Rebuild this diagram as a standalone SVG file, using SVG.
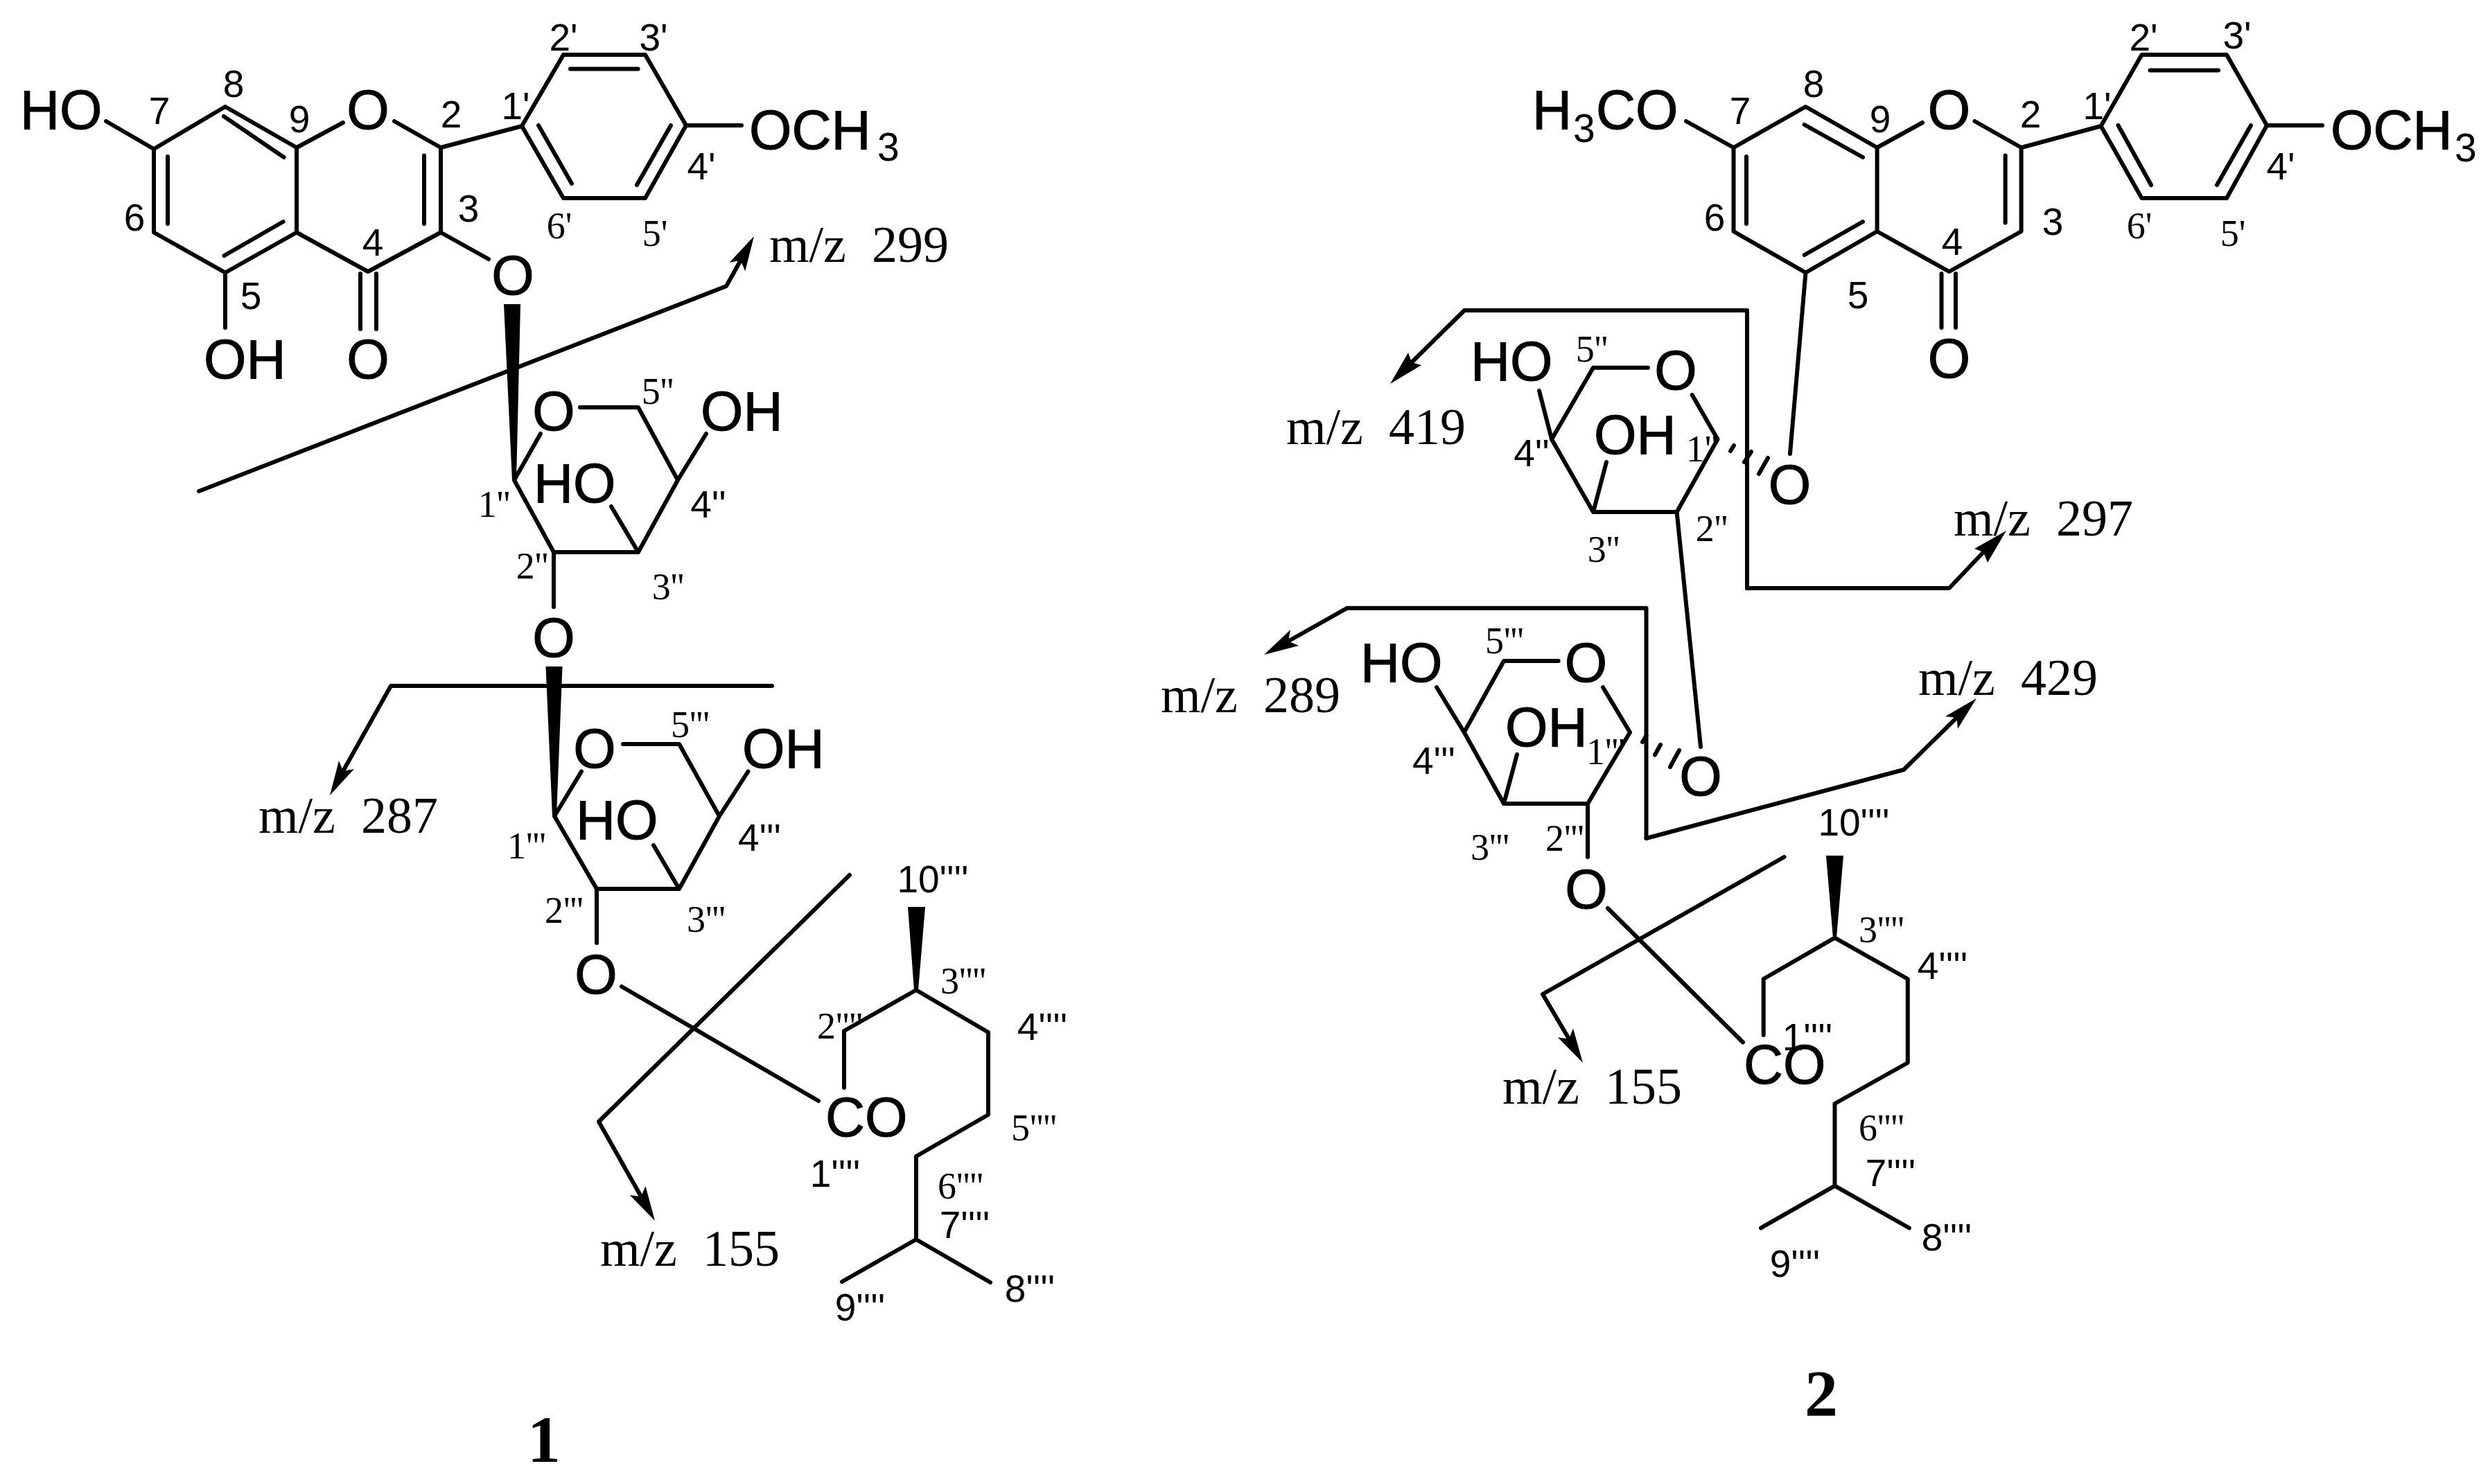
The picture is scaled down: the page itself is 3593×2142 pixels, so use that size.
<svg xmlns="http://www.w3.org/2000/svg" width="3593" height="2142" viewBox="0 0 3593 2142">
<style>
text{fill:#000;white-space:pre}
.b{font:79px "Liberation Sans",Arial,sans-serif;stroke:#000;stroke-width:1}
.s{font:57px "Liberation Sans",Arial,sans-serif}
.a{font:55px "Liberation Sans",Arial,sans-serif;text-anchor:middle}
.t{font:54px "Liberation Serif","Times New Roman",serif;text-anchor:middle}
.m{font:74px "Liberation Serif","Times New Roman",serif}
.c{text-anchor:middle}
.n{font:bold 96px "Liberation Serif","Times New Roman",serif;text-anchor:middle}
.l{fill:none;stroke:#000;stroke-width:6;stroke-linejoin:round;stroke-linecap:round}
polygon{fill:#000}
</style>
<rect width="3593" height="2142" fill="#fff"/>
<g id="compound-1">
<path class="l" d="M153 175L222 215L325 154L428 213V335.5L325 393.5L222 335.5V215M323 168L409.6 227M242 226V323M408.6 320L323.5 369M428 213L495 177M569 175L636 213V335.5L531 392L428 335.5M612 224.5V323M636 213L753 182L813 79H931L990 181L931 286H813L753 182M823 99.5H920.6M777 181L825 265M968 181L919 267M990 181H1070M325 393.5V473M520 395V475M543 395V475M636 335.5L705 374"/>
<path class="l" d="M837 588H921L978 693L921 797H799L742 693L780 626M978 693L1019 626M921 797L882 731M799 797V876"/>
<path class="l" d="M899 1074H980L1038 1178L980 1283H861L800 1178L839 1113.5M1038 1178L1079.5 1113.5M980 1283L943 1220M861 1283V1361M897 1424L1181 1589M1218 1570V1488L1322 1429L1426 1490V1609L1322 1669V1789L1215 1850M1322 1789L1429 1851"/>
<polygon points="727,439 751,439 745,694 739,694"/>
<polygon points="787.5,962 811.5,962 803,1178 797,1178"/>
<polygon points="1310,1309 1335,1309 1325,1429 1319,1429"/>
<text class="b" x="29" y="186">HO</text>
<text class="b c" x="531" y="186">O</text>
<text class="b" x="1081" y="215">OCH</text><text class="s" x="1266" y="232">3</text>
<text class="b" x="294" y="546">OH</text>
<text class="b c" x="531" y="546">O</text>
<text class="b c" x="740" y="425">O</text>
<text class="b c" x="799" y="621">O</text>
<text class="b" x="1011" y="621">OH</text>
<text class="b" x="770" y="725">HO</text>
<text class="b c" x="799" y="948">O</text>
<text class="b c" x="858" y="1108">O</text>
<text class="b" x="1071" y="1108">OH</text>
<text class="b" x="831" y="1211">HO</text>
<text class="b c" x="860" y="1434">O</text>
<text class="b" x="1191" y="1640">CO</text>
<text class="a" x="337" y="140">8</text><text class="a" x="230" y="179">7</text><text class="a" x="432" y="191">9</text><text class="a" x="651" y="184">2</text><text class="a" x="744" y="172">1'</text><text class="a" x="813" y="73">2'</text><text class="a" x="943" y="73">3'</text><text class="a" x="194" y="333">6</text><text class="a" x="676" y="320">3</text><text class="a" x="538" y="369">4</text><text class="a" x="362" y="446">5</text><text class="t" x="807" y="344">6'</text><text class="t" x="945" y="355">5'</text><text class="a" x="1012" y="259">4'</text>
<text class="t" x="949" y="583">5''</text><text class="t" x="713" y="746">1''</text><text class="a" x="1022" y="747">4''</text><text class="t" x="768" y="835">2''</text><text class="t" x="964" y="865">3''</text>
<text class="t" x="996" y="1064">5'''</text><text class="t" x="760" y="1239">1'''</text><text class="a" x="1096" y="1228">4'''</text><text class="t" x="814" y="1332">2'''</text><text class="t" x="1019" y="1345">3'''</text>
<text class="a" x="1346" y="1288">10''''</text><text class="t" x="1390" y="1434">3''''</text><text class="t" x="1212" y="1499">2''''</text><text class="a" x="1504" y="1501">4''''</text><text class="t" x="1492" y="1646">5''''</text><text class="a" x="1205" y="1713">1''''</text><text class="t" x="1386" y="1730">6''''</text><text class="a" x="1392" y="1787">7''''</text><text class="a" x="1486" y="1879">8''''</text><text class="a" x="1241" y="1906">9''''</text>
<text class="n" x="785" y="2110">1</text>
</g>
<g id="compound-2">
<path class="l" d="M2433 175L2501.5 213L2605.5 154L2708.6 213V334L2605.5 393.5L2501.5 334V213M2603.7 180L2688 227M2520 226V323M2688 320L2603.7 368M2708.6 213L2774 177M2849.5 175L2916.6 213V334L2812.6 392L2708.6 334M2893.6 224.5V321.5M2916.6 213L3031.6 182L3090.5 79H3213L3271 181L3213 286H3090.5L3031.6 182M3102.5 101.5H3201M3056.5 181L3104 267M3248 181L3199 267M3271 181H3351M2801.5 395V473M2822 395V473M2605.5 393.5L2583 655"/>
<path class="l" d="M2378 530.7H2299L2239 634L2299 739H2419.6L2478.5 634L2441.7 570M2239 634L2221 564M2299 739L2318 667M2419.6 739L2454 1078M2502 643L2497 651M2527 652L2517 667M2551 661L2538 684"/>
<path class="l" d="M2248.7 954H2170L2112.7 1057L2170 1160H2291L2352 1057L2313 992M2112.7 1057L2073 992M2170 1160L2189 1089M2291 1160V1237M2375.5 1062L2370 1071M2396 1075L2388 1089.5M2423 1083L2410 1107M2320 1311L2515 1504.5M2544.7 1494V1413L2647.5 1353.6L2752.8 1413V1534L2647.5 1593V1711.7L2541 1772.5M2647.5 1711.7L2755 1772.5"/>
<polygon points="2635,1235 2660,1235 2650,1354 2645,1354"/>
<text class="b" x="2211" y="186">H</text><text class="s" x="2270" y="205">3</text><text class="b" x="2303" y="186">CO</text>
<text class="b c" x="2812.6" y="186">O</text>
<text class="b" x="3363" y="215">OCH</text><text class="s" x="3542" y="233">3</text>
<text class="b c" x="2812.6" y="545">O</text>
<text class="b c" x="2418" y="562">O</text>
<text class="b" x="2122" y="549">HO</text>
<text class="b" x="2300" y="655">OH</text>
<text class="b c" x="2582.5" y="727">O</text>
<text class="b c" x="2288.5" y="984">O</text>
<text class="b" x="1963" y="984">HO</text>
<text class="b" x="2172" y="1077">OH</text>
<text class="b c" x="2289" y="1311">O</text>
<text class="b c" x="2454" y="1148">O</text>
<text class="b" x="2516" y="1564">CO</text>
<text class="a" x="2617" y="140">8</text><text class="a" x="2511" y="179">7</text><text class="a" x="2713" y="191">9</text><text class="a" x="2930" y="184">2</text><text class="a" x="3026" y="172">1'</text><text class="a" x="3093" y="73">2'</text><text class="a" x="3228" y="70">3'</text><text class="a" x="2474" y="333">6</text><text class="a" x="2962" y="339">3</text><text class="a" x="2817" y="368">4</text><text class="a" x="2681" y="445">5</text><text class="t" x="3087" y="344">6'</text><text class="t" x="3222" y="355">5'</text><text class="a" x="3291" y="259">4'</text>
<text class="t" x="2297" y="522">5''</text><text class="t" x="2456" y="666">1''</text><text class="a" x="2210" y="673">4''</text><text class="t" x="2470" y="781">2''</text><text class="t" x="2314" y="811">3''</text>
<text class="t" x="2171" y="943">5'''</text><text class="t" x="2317" y="1103">1'''</text><text class="a" x="2069" y="1117">4'''</text><text class="t" x="2258" y="1228">2'''</text><text class="t" x="2150" y="1241">3'''</text>
<text class="a" x="2675" y="1206">10''''</text><text class="t" x="2715" y="1360">3''''</text><text class="a" x="2803" y="1413">4''''</text><text class="a" x="2608" y="1516">1''''</text><text class="t" x="2715" y="1646">6''''</text><text class="a" x="2728" y="1712">7''''</text><text class="a" x="2809" y="1805">8''''</text><text class="a" x="2590" y="1843">9''''</text>
<text class="n" x="2628" y="2044">2</text>
</g>
<g id="connectors">
<path class="l" d="M287 709L1048 413L1068.6 376"/><polygon points="1088,341 1075.3,391.3 1068.6,376 1052.7,378.7"/>
<path class="l" d="M1114 990H564L495 1113"/><polygon points="476,1148 489,1098 495,1113 511,1110"/>
<path class="l" d="M1226 1263L864 1619L925 1727"/><polygon points="945,1762 908.7,1725 925,1727 931.5,1712"/>
<path class="l" d="M2521 849H2812.6L2862 797"/><polygon points="2895,766 2849,792 2862,797 2868,812"/>
<path class="l" d="M2521 849V448H2113L2037 523"/><polygon points="2006,554 2032,509 2037,523 2051,527"/>
<path class="l" d="M2375.5 1210V877.7H1944L1859 925.5"/><polygon points="1824,945 1862,909 1859,925.5 1874,932"/>
<path class="l" d="M2375.5 1210L2747 1111L2823.4 1036"/><polygon points="2852,1008 2807,1034 2823.4,1036 2825,1052"/>
<path class="l" d="M2574.5 1237L2226 1435L2264 1499.5"/><polygon points="2284,1534 2248,1497.5 2264,1499.5 2270,1484.5"/>
<text class="m" x="1110" y="378">m/z  299</text>
<text class="m" x="373" y="1202">m/z  287</text>
<text class="m" x="866" y="1827">m/z  155</text>
<text class="m" x="1856" y="641">m/z  419</text>
<text class="m" x="2819" y="773">m/z  297</text>
<text class="m" x="1675" y="1028">m/z  289</text>
<text class="m" x="2768" y="1003">m/z  429</text>
<text class="m" x="2168" y="1593">m/z  155</text>
</g>
</svg>
